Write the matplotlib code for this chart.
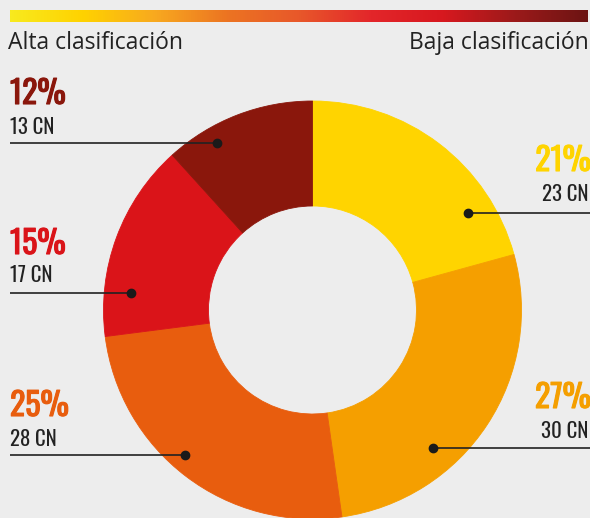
import matplotlib
matplotlib.use("Agg")
import matplotlib.pyplot as plt
import matplotlib.patheffects as pe
import numpy as np
from matplotlib.colors import LinearSegmentedColormap

matplotlib.rcParams['font.family'] = 'Open Sans'

W, H = 590, 518                      # canvas size in pixels
BG = '#ededed'
CONDENSED = ['Oswald', 'Barlow Condensed', 'DejaVu Sans']

COUNTS = [23, 30, 28, 17, 13]
COLORS = ['#ffd400', '#f59f00', '#e85d0e', '#da1419', '#8a170c']

# label layout: (text x, ha, pct y, count y, line y, dot x) in pixel units
LABELS = [
    (591, 'right', 161, 194, 213, 468),
    (591, 'right', 398, 431, 448, 433),
    (10, 'left', 406, 439, 455, 185),
    (10, 'left', 244, 275, 293, 131),
    (10, 'left', 94, 127, 143, 217),
]

GRADIENT = ['#f8ea1e', '#ffd200', '#f8a91f', '#ec7422', '#e8582a',
            '#e3262a', '#d7181f', '#9c1a1a', '#6c1413']


def _py(y):
    """Convert a pixel row (from top) into data y."""
    return H - y


def plot_ranking_donut(output_path: str = "out.png") -> str:
    fig = plt.figure(figsize=(W / 100, H / 100), dpi=100)
    fig.patch.set_facecolor(BG)
    ax = fig.add_axes([0, 0, 1, 1])
    ax.set_facecolor(BG)

    # =========================
    # DONUT
    # =========================
    wedges, _ = ax.pie(
        COUNTS,
        colors=COLORS,
        startangle=90,
        counterclock=False,
        center=(312.5, _py(310)),
        radius=209,
        wedgeprops=dict(width=105, linewidth=0.6),
        frame=True,
    )
    for w in wedges:
        w.set_edgecolor(w.get_facecolor())  # hide hairline gaps

    # =========================
    # GRADIENT SCALE
    # =========================
    cmap = LinearSegmentedColormap.from_list("rank", GRADIENT)
    grad = np.linspace(0, 1, 512).reshape(1, -1)
    ax.imshow(grad, cmap=cmap, aspect='auto',
              extent=(10, 588, _py(22), _py(10)), zorder=1)
    ax.text(8, _py(43), "Alta clasificación", fontsize=16.5,
            color='#222222', va='center', ha='left')
    ax.text(589, _py(43), "Baja clasificación", fontsize=16.5,
            color='#222222', va='center', ha='right')

    # =========================
    # LABELS
    # =========================
    total = sum(COUNTS)
    for count, color, (tx, ha, py_pct, py_cnt, py_line, dot_x) in zip(COUNTS, COLORS, LABELS):
        pct = round(100 * count / total)
        ax.text(tx, _py(py_pct), f"{pct}%", fontsize=23, fontweight='bold',
                color=color, ha=ha, va='center', family=CONDENSED,
                path_effects=[pe.withStroke(linewidth=0.8, foreground=color)])  # faux bold
        ax.text(tx - 3 if ha == 'right' else tx, _py(py_cnt), f"{count} CN",
                fontsize=15, color='#222222', ha=ha, va='center', family=CONDENSED)
        line_end = 10 if ha == 'left' else W
        ax.plot([line_end, dot_x], [_py(py_line)] * 2, color='#222222',
                lw=1.2, zorder=5, solid_capstyle='butt')
        ax.plot(dot_x, _py(py_line), 'o', color='#1a1a1a', ms=6, zorder=6)

    ax.set_xlim(0, W)
    ax.set_ylim(0, H)
    ax.set_axis_off()

    fig.savefig(output_path, dpi=100, facecolor=BG)
    plt.close(fig)

    return output_path


if __name__ == "__main__":
    plot_ranking_donut("out.png")
